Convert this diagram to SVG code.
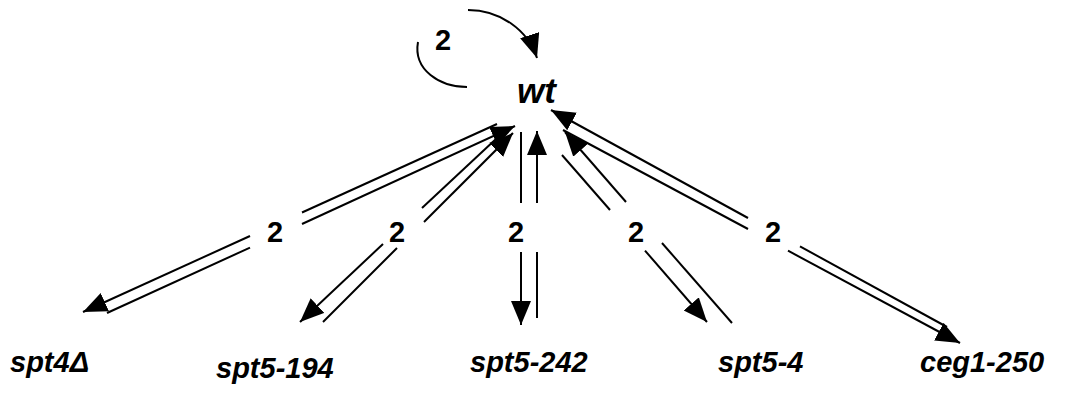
<svg xmlns="http://www.w3.org/2000/svg" width="1073" height="402" viewBox="0 0 1073 402">
<style>
.l{stroke:#000;stroke-width:2;fill:none}
.a{marker-end:url(#ah)}
.t{font-family:"Liberation Sans",Arial,sans-serif;font-weight:bold;font-style:italic;font-size:29px;fill:#000}
.n{font-family:"Liberation Sans",Arial,sans-serif;font-weight:bold;font-size:29px;fill:#000;text-anchor:middle}
</style>
<defs>
<marker id="ah" markerUnits="userSpaceOnUse" markerWidth="26" markerHeight="22" refX="24" refY="10" orient="auto">
<path d="M0,0 L24,10 L0,20 Z" fill="#000"/>
</marker>
</defs>
<rect width="1073" height="402" fill="#fff"/>
<g id="connectors">
<path class="l a" d="M468,10 C500,10 528,30 537,58"/>
<path class="l" d="M418,42 C413,70 440,87 467,87"/>
<path class="l" d="M497,124 L302,212.5"/>
<path class="l a" d="M250,236 L83,312"/>
<path class="l" d="M107,313 L250,247.6"/>
<path class="l a" d="M302,224 L515,126"/>
<path class="l" d="M497,138 L422,208"/>
<path class="l a" d="M383,244 L300,322"/>
<path class="l" d="M323,322 L397,248"/>
<path class="l a" d="M424,222 L513,133"/>
<path class="l" d="M521,132 L521,203"/>
<path class="l a" d="M521,252 L521,325"/>
<path class="l" d="M537,318 L537,252"/>
<path class="l a" d="M537,203 L537,131"/>
<path class="l" d="M562,155 L610,210"/>
<path class="l a" d="M645,250.6 L707,322"/>
<path class="l" d="M732,323 L662,243"/>
<path class="l a" d="M626,202 L565,132"/>
<path class="l" d="M563,130 L748,229"/>
<path class="l a" d="M788,250.7 L960,343"/>
<path class="l" d="M947,327 L800,246.4"/>
<path class="l a" d="M748,218 L551,110"/>
</g>
<g id="loop-label"><text class="n" x="443" y="50">2</text></g>
<g id="edge-labels">
<text class="n" x="275" y="242">2</text>
<text class="n" x="397" y="242">2</text>
<text class="n" x="516" y="242">2</text>
<text class="n" x="636" y="242">2</text>
<text class="n" x="773" y="242">2</text>
</g>
<g id="node-wt"><text class="t" x="517" y="103" style="font-size:35px">wt</text></g>
<g id="node-spt4"><text class="t" x="10" y="372">spt4Δ</text></g>
<g id="node-spt5-194"><text class="t" x="216" y="378">spt5-194</text></g>
<g id="node-spt5-242"><text class="t" x="470" y="372">spt5-242</text></g>
<g id="node-spt5-4"><text class="t" x="718" y="372">spt5-4</text></g>
<g id="node-ceg1-250"><text class="t" x="920" y="372">ceg1-250</text></g>
</svg>
